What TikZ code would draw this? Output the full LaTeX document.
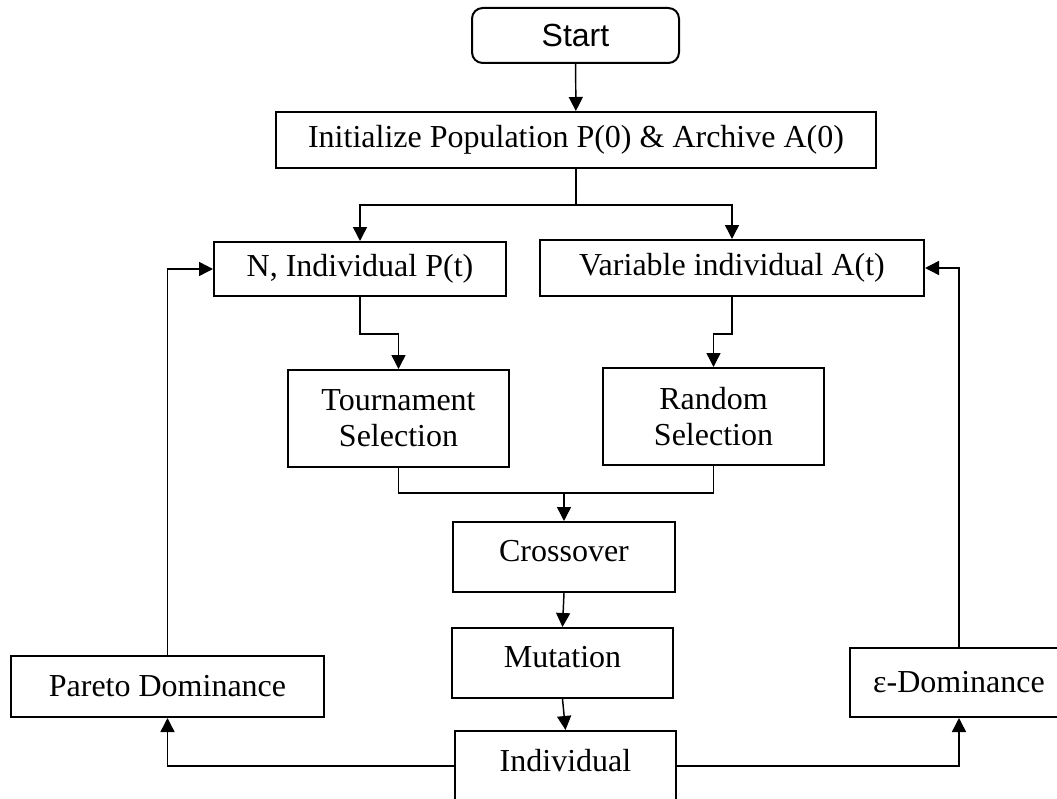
\documentclass[tikz,border=0pt]{standalone}
\usepackage{fontspec}
\setmainfont{Liberation Serif}
\newfontfamily\arialfont{Liberation Sans}
\usetikzlibrary{arrows.meta}
\begin{document}
\begin{tikzpicture}[x=0.75pt,y=-0.75pt,
  box/.style={draw, line width=1.5pt, inner sep=0pt, align=center,
    font=\fontsize{24}{27}\selectfont},
  raised/.style={text depth=9pt},
  conn/.style={line width=1.1pt, -{Triangle[length=10.5pt,width=10.5pt]}},
  plain/.style={line width=1.1pt}]
\useasboundingbox (0,0) rectangle (1057,799);
\fill[white] (0,0) rectangle (1057,799);
\node[box, rounded corners=8pt, minimum width=207*0.75pt, minimum height=55*0.75pt,
  font=\arialfont\fontsize{24}{27}\selectfont] (start) at (575.5,35.5) {Start};
\node[box, minimum width=600*0.75pt, minimum height=56*0.75pt] (init) at (576,140)
  {Initialize Population P(0) \& Archive A(0)};
\node[box, minimum width=292*0.75pt, minimum height=54*0.75pt] (nbox) at (360,269)
  {N, Individual P(t)};
\node[box, minimum width=384*0.75pt, minimum height=56*0.75pt] (var) at (732,268)
  {Variable individual A(t)};
\node[box, minimum width=221*0.75pt, minimum height=97*0.75pt] (tour) at (398.5,418.5)
  {Tournament\\Selection};
\node[box, minimum width=221*0.75pt, minimum height=97*0.75pt] (rand) at (713.5,416.5)
  {Random\\Selection};
\node[box, raised, minimum width=222*0.75pt, minimum height=70*0.75pt] (cross) at (564,557)
  {Crossover};
\node[box, raised, minimum width=221*0.75pt, minimum height=70*0.75pt] (mut) at (562.5,663)
  {Mutation};
\node[box, raised, minimum width=221*0.75pt, minimum height=70*0.75pt] (indiv) at (565.5,766)
  {Individual};
\node[box, minimum width=313*0.75pt, minimum height=61*0.75pt] (pareto) at (167.5,686.5)
  {Pareto Dominance};
\node[box, minimum width=218*0.75pt, minimum height=69*0.75pt] (eps) at (959,682.5)
  {ε-Dominance};
\coordinate (split) at (576,205);
\coordinate (merge) at (564,493);
\draw[conn] (start) -- (init);
\draw[plain] (init.south) -- (split);
\draw[conn] (split) -| (nbox.north);
\draw[conn] (split) -| (var.north);
\draw[conn] (nbox.south) -- ++(0,37) -| (tour.north);
\draw[conn] (var.south) -- ++(0,37) -| (rand.north);
\draw[plain] (tour.south) -- (tour.south |- merge) -- (rand.south |- merge) -- (rand.south);
\draw[conn] (merge) -- (cross.north);
\draw[conn] (cross.south) -- (mut.north);
\draw[conn] (mut.south) -- (indiv.north);
\draw[conn] (indiv.west) -| (pareto.south);
\draw[conn] (pareto.north) |- (nbox.west);
\draw[conn] (indiv.east) -| (eps.south);
\draw[conn] (eps.north) |- (var.east);
\end{tikzpicture}
\end{document}
